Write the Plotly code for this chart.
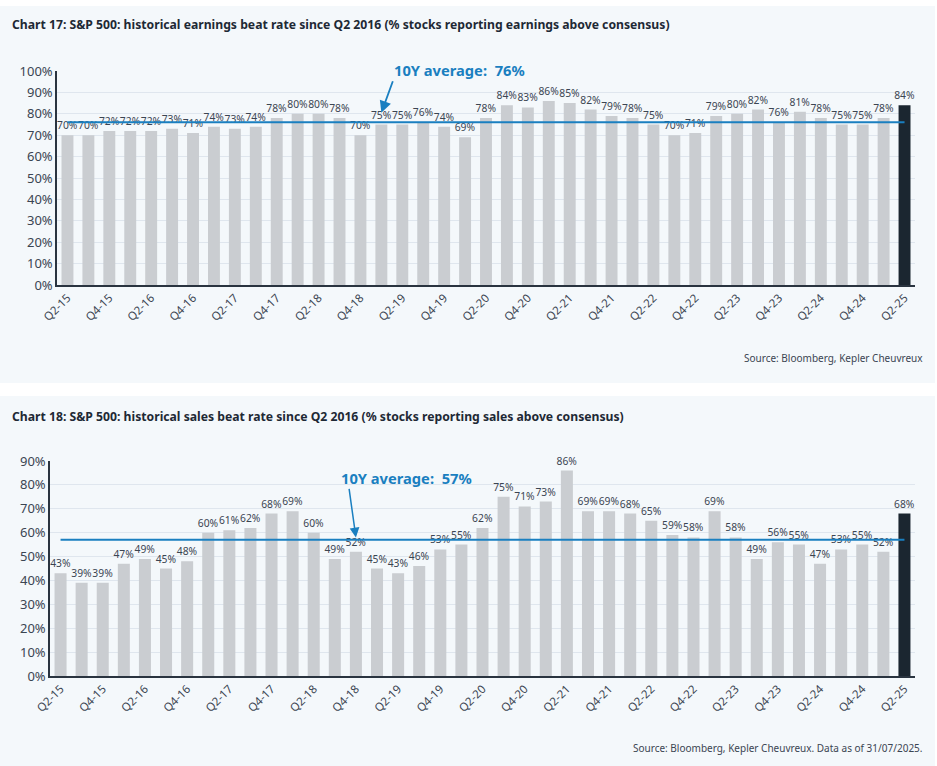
import plotly.graph_objects as go

quarters = ["Q2-15","Q3-15","Q4-15",
            "Q1-16","Q2-16","Q3-16","Q4-16",
            "Q1-17","Q2-17","Q3-17","Q4-17",
            "Q1-18","Q2-18","Q3-18","Q4-18",
            "Q1-19","Q2-19","Q3-19","Q4-19",
            "Q1-20","Q2-20","Q3-20","Q4-20",
            "Q1-21","Q2-21","Q3-21","Q4-21",
            "Q1-22","Q2-22","Q3-22","Q4-22",
            "Q1-23","Q2-23","Q3-23","Q4-23",
            "Q1-24","Q2-24","Q3-24","Q4-24",
            "Q1-25","Q2-25"]

earnings_beat = [70,70,72,72,72,73,71,74,73,74,78,80,80,78,70,75,75,76,74,69,
                 78,84,83,86,85,82,79,78,75,70,71,79,80,82,76,81,78,75,75,78,84]
sales_beat = [43,39,39,47,49,45,48,60,61,62,68,69,60,49,52,45,43,46,53,55,
              62,75,71,73,86,69,69,68,65,59,58,69,58,49,56,55,47,53,55,52,68]

earnings_avg = 76
sales_avg = 57

title1 = "Chart 17: S&P 500: historical earnings beat rate since Q2 2016 (% stocks reporting earnings above consensus)"
title2 = "Chart 18: S&P 500: historical sales beat rate since Q2 2016 (% stocks reporting sales above consensus)"
source1 = "Source: Bloomberg, Kepler Cheuvreux"
source2 = "Source: Bloomberg, Kepler Cheuvreux. Data as of 31/07/2025."
tick_labels = quarters[::2]

W, H = 937, 766
FONT = "Noto Sans"
GRAY = "#cacdd1"
DARK = "#1b2630"
BLUE = "#1a7fc0"
TXT = "#3b4552"

def px(x):
    return x / W

def py(y):
    return 1 - y / H

fig = go.Figure()

def colors(n):
    return [GRAY] * (n - 1) + [DARK]

fig.add_trace(go.Bar(
    x=quarters, y=earnings_beat, marker=dict(color=colors(len(quarters)), line=dict(width=0)),
    text=[f"{v}%" for v in earnings_beat], textposition="outside", constraintext="none",
    textfont=dict(family=FONT, size=10.3, color=TXT), cliponaxis=False,
    xaxis="x", yaxis="y", showlegend=False, hoverinfo="x+y"))
fig.add_trace(go.Scatter(
    x=[quarters[0], quarters[-1]], y=[earnings_avg, earnings_avg], mode="lines",
    line=dict(color=BLUE, width=2), xaxis="x", yaxis="y", showlegend=False, hoverinfo="skip"))

fig.add_trace(go.Bar(
    x=quarters, y=sales_beat, marker=dict(color=colors(len(quarters)), line=dict(width=0)),
    text=[f"{v}%" for v in sales_beat], textposition="outside", constraintext="none",
    textfont=dict(family=FONT, size=10.3, color=TXT), cliponaxis=False,
    xaxis="x2", yaxis="y2", showlegend=False, hoverinfo="x+y"))
fig.add_trace(go.Scatter(
    x=[quarters[0], quarters[-1]], y=[sales_avg, sales_avg], mode="lines",
    line=dict(color=BLUE, width=2), xaxis="x2", yaxis="y2", showlegend=False, hoverinfo="skip"))

xcommon = dict(type="category", tickmode="array", tickvals=tick_labels, ticktext=tick_labels,
               tickangle=-45, tickfont=dict(family=FONT, size=11.5, color=TXT),
               showline=True, linecolor="#2a3440", linewidth=1.5, showgrid=False,
               ticks="", fixedrange=True, automargin=False)
ycommon = dict(ticksuffix="%", tickfont=dict(family=FONT, size=13, color=TXT),
               showline=True, linecolor="#2a3440", linewidth=1.5, showgrid=True,
               gridcolor="#dfe6ee", gridwidth=1, zeroline=False, ticks="", dtick=10,
               fixedrange=True, automargin=False)

fig.update_layout(
    width=W, height=H, margin=dict(l=0, r=0, t=0, b=0, autoexpand=False),
    paper_bgcolor="white", plot_bgcolor="rgba(0,0,0,0)",
    bargap=0.43,
    xaxis=dict(domain=[px(57), px(915)], anchor="y", **xcommon),
    yaxis=dict(domain=[py(285), py(71)], anchor="x", range=[0, 100], **ycommon),
    xaxis2=dict(domain=[px(50), px(915)], anchor="y2", **xcommon),
    yaxis2=dict(domain=[py(676), py(461)], anchor="x2", range=[0, 90], **ycommon),
    shapes=[
        dict(type="rect", xref="paper", yref="paper", x0=0, x1=px(935), y0=py(383), y1=py(6),
             fillcolor="#f4f8fb", line=dict(width=0), layer="below"),
        dict(type="rect", xref="paper", yref="paper", x0=0, x1=px(935), y0=py(766), y1=py(396),
             fillcolor="#f4f8fb", line=dict(width=0), layer="below"),
    ],
    annotations=[
        dict(text=f"<b>{title1}</b>", xref="paper", yref="paper", x=px(10), y=py(25),
             xanchor="left", yanchor="middle", showarrow=False,
             font=dict(family=FONT, size=12.2, color="#1e2935")),
        dict(text=f"<b>{title2}</b>", xref="paper", yref="paper", x=px(10), y=py(416),
             xanchor="left", yanchor="middle", showarrow=False,
             font=dict(family=FONT, size=12.2, color="#1e2935")),
        dict(text=source1, xref="paper", yref="paper", x=px(925), y=py(358),
             xanchor="right", yanchor="middle", showarrow=False,
             font=dict(family=FONT, size=10, color=TXT)),
        dict(text=source2, xref="paper", yref="paper", x=px(925), y=py(748),
             xanchor="right", yanchor="middle", showarrow=False,
             font=dict(family=FONT, size=10, color=TXT)),
        # chart 1 average label + arrow
        dict(text=f"<b>10Y average:  {earnings_avg}%</b>", xref="paper", yref="paper",
             x=px(392), y=py(70), xanchor="left", yanchor="middle", showarrow=False,
             font=dict(family=FONT, size=14.7, color=BLUE)),
        dict(text="", xref="x", yref="y", x="Q1-19", y=80.5, ax=12, ay=-33,
             showarrow=True, arrowhead=2, arrowsize=1.3, arrowwidth=1.8, arrowcolor=BLUE),
        # chart 2 average label + arrow
        dict(text=f"<b>10Y average:  {sales_avg}%</b>", xref="paper", yref="paper",
             x=px(339), y=py(478), xanchor="left", yanchor="middle", showarrow=False,
             font=dict(family=FONT, size=14.7, color=BLUE)),
        dict(text="", xref="x2", yref="y2", x="Q4-18", y=58, ax=-7, ay=-50,
             showarrow=True, arrowhead=2, arrowsize=1.3, arrowwidth=1.5, arrowcolor=BLUE),
    ],
)

fig.write_html("out.html", config={"displayModeBar": False},
               post_script="document.body.style.margin='0';document.body.style.overflow='hidden';")
